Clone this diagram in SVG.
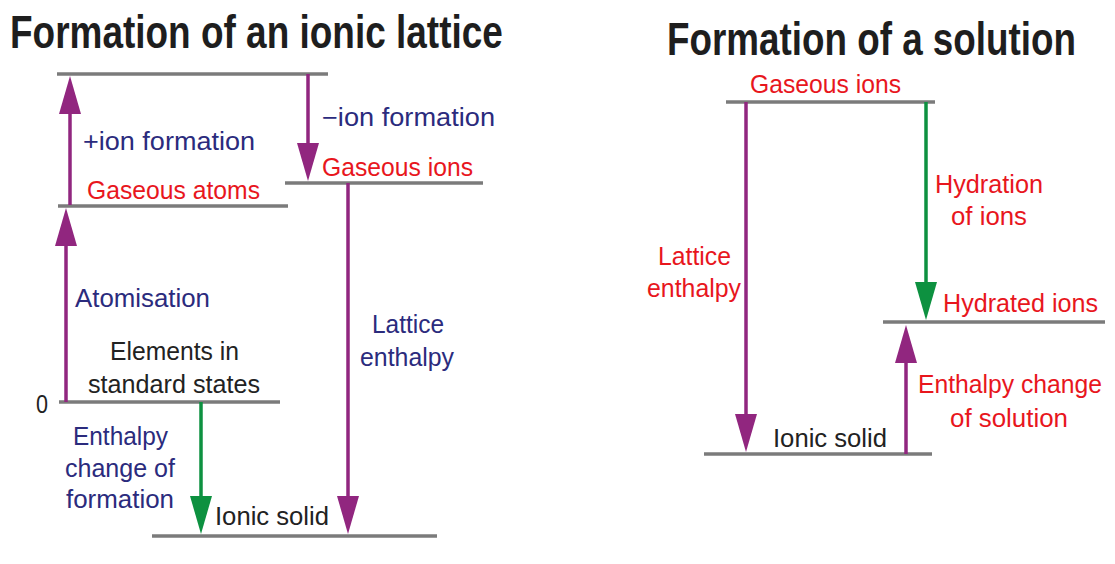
<svg xmlns="http://www.w3.org/2000/svg" width="1115" height="564" viewBox="0 0 1115 564">
<style>
text{font-family:"Liberation Sans",Arial,sans-serif;font-size:25px;}
.title{font-weight:bold;font-size:47px;fill:#1e1e1e;}
.navy{fill:#2b2b7d;}
.red{fill:#e8161d;}
.blk{fill:#222;}
.lvl{stroke:#7b7b7b;stroke-width:3.5;fill:none;}
.ap{stroke:#91267f;stroke-width:3.5;fill:none;marker-end:url(#hp);}
.ag{stroke:#0d9140;stroke-width:3.5;fill:none;marker-end:url(#hg);}
</style>
<defs>
<marker id="hp" markerUnits="userSpaceOnUse" markerWidth="40" markerHeight="24" viewBox="0 0 40 24" refX="4" refY="11" orient="auto">
<path d="M0,0 L38,11 L0,22 z" fill="#91267f"/>
</marker>
<marker id="hg" markerUnits="userSpaceOnUse" markerWidth="40" markerHeight="24" viewBox="0 0 40 24" refX="4" refY="11" orient="auto">
<path d="M0,0 L38,11 L0,22 z" fill="#0d9140"/>
</marker>
</defs>
<rect width="1115" height="564" fill="#fff"/>

<text class="title" transform="translate(10,48) scale(0.786,1)" x="0" y="0" textLength="627" lengthAdjust="spacingAndGlyphs">Formation of an ionic lattice</text>
<text class="title" transform="translate(667,55) scale(0.7835,1)" x="0" y="0" textLength="522" lengthAdjust="spacingAndGlyphs">Formation of a solution</text>

<!-- Left diagram levels -->
<g id="L-top"><line class="lvl" x1="57" y1="74" x2="328" y2="74"/></g>
<g id="L-gaseous-ions">
<line class="lvl" x1="285" y1="183" x2="483" y2="183"/>
<text class="red" x="322" y="176" textLength="151" lengthAdjust="spacingAndGlyphs">Gaseous ions</text>
</g>
<g id="L-gaseous-atoms">
<line class="lvl" x1="58" y1="206" x2="288" y2="206"/>
<text class="red" x="87" y="199" textLength="173" lengthAdjust="spacingAndGlyphs">Gaseous atoms</text>
</g>
<g id="L-elements">
<line class="lvl" x1="59" y1="402" x2="280" y2="402"/>
<text class="blk" x="110" y="360" textLength="129" lengthAdjust="spacingAndGlyphs">Elements in</text>
<text class="blk" x="88" y="393" textLength="172" lengthAdjust="spacingAndGlyphs">standard states</text>
<text class="blk" x="36" y="413" textLength="12" lengthAdjust="spacingAndGlyphs">0</text>
</g>
<g id="L-ionic-solid">
<line class="lvl" x1="152" y1="536" x2="437" y2="536"/>
<text class="blk" x="215" y="525" textLength="114" lengthAdjust="spacingAndGlyphs">Ionic solid</text>
</g>

<!-- Right diagram levels -->
<g id="R-gaseous-ions">
<line class="lvl" x1="726" y1="102" x2="935" y2="102"/>
<text class="red" x="750" y="93" textLength="151" lengthAdjust="spacingAndGlyphs">Gaseous ions</text>
</g>
<g id="R-hydrated-ions">
<line class="lvl" x1="883" y1="322" x2="1105" y2="322"/>
<text class="red" x="943" y="312" textLength="155" lengthAdjust="spacingAndGlyphs">Hydrated ions</text>
</g>
<g id="R-ionic-solid">
<line class="lvl" x1="704" y1="454" x2="932" y2="454"/>
<text class="blk" x="773" y="447" textLength="114" lengthAdjust="spacingAndGlyphs">Ionic solid</text>
</g>

<!-- Connectors -->
<g id="connectors">
<line class="ap" x1="70" y1="205" x2="70" y2="110"/>
<line class="ap" x1="308" y1="74" x2="308" y2="147"/>
<line class="ap" x1="66" y1="402" x2="66" y2="242"/>
<line class="ag" x1="201" y1="402" x2="201" y2="500"/>
<line class="ap" x1="348" y1="183" x2="348" y2="500"/>
<line class="ap" x1="746" y1="102" x2="746" y2="418"/>
<line class="ag" x1="926" y1="102" x2="926" y2="286"/>
<line class="ap" x1="906" y1="454" x2="906" y2="359"/>
</g>

<!-- Connector labels -->
<g id="connector-labels">
<text class="navy" x="83" y="150" textLength="172" lengthAdjust="spacingAndGlyphs">+ion formation</text>
<text class="navy" x="322" y="126" textLength="173" lengthAdjust="spacingAndGlyphs">−ion formation</text>
<text class="navy" x="75" y="307" textLength="135" lengthAdjust="spacingAndGlyphs">Atomisation</text>
<text class="navy" x="73" y="445" textLength="95" lengthAdjust="spacingAndGlyphs">Enthalpy</text>
<text class="navy" x="65" y="477" textLength="110" lengthAdjust="spacingAndGlyphs">change of</text>
<text class="navy" x="66" y="508" textLength="108" lengthAdjust="spacingAndGlyphs">formation</text>
<text class="navy" x="372" y="333" textLength="72" lengthAdjust="spacingAndGlyphs">Lattice</text>
<text class="navy" x="360" y="366" textLength="94" lengthAdjust="spacingAndGlyphs">enthalpy</text>
<text class="red" x="658" y="265" textLength="73" lengthAdjust="spacingAndGlyphs">Lattice</text>
<text class="red" x="647" y="297" textLength="94" lengthAdjust="spacingAndGlyphs">enthalpy</text>
<text class="red" x="935" y="193" textLength="108" lengthAdjust="spacingAndGlyphs">Hydration</text>
<text class="red" x="951" y="225" textLength="76" lengthAdjust="spacingAndGlyphs">of ions</text>
<text class="red" x="918" y="393" textLength="184" lengthAdjust="spacingAndGlyphs">Enthalpy change</text>
<text class="red" x="950" y="427" textLength="118" lengthAdjust="spacingAndGlyphs">of solution</text>
</g>
</svg>
